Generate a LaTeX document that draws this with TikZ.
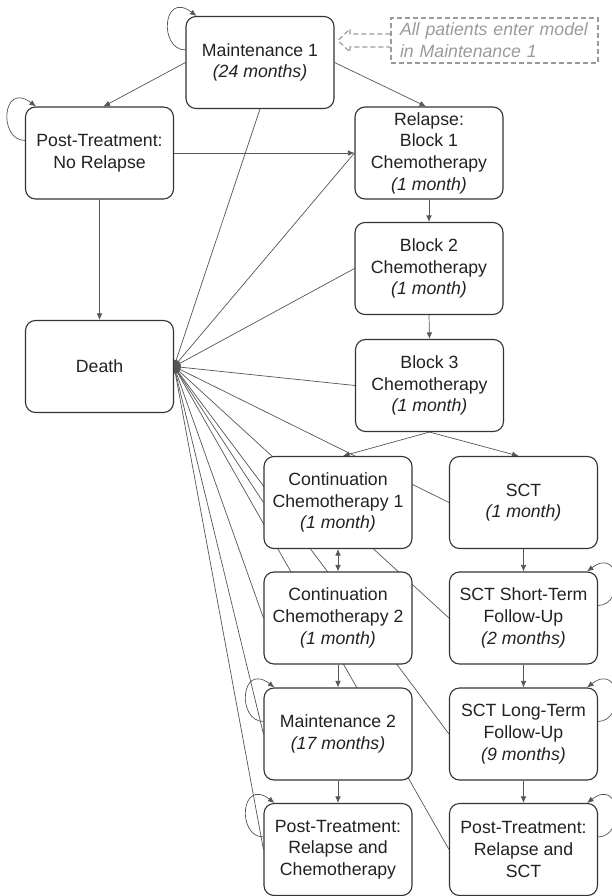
\documentclass[tikz,border=0pt]{standalone}
\usepackage{fontspec}
\setmainfont{Liberation Sans}
\usetikzlibrary{arrows.meta,calc}
\pgfdeclarelayer{bg}
\pgfsetlayers{bg,main}
\definecolor{boxline}{HTML}{333333}
\definecolor{connc}{HTML}{555555}
\definecolor{txt}{HTML}{222222}
\definecolor{notec}{HTML}{9A9A9A}
\begin{document}
\begin{tikzpicture}[x=1pt,y=-1pt,
  state/.style={draw=boxline, line width=1.1pt, rounded corners=10pt, fill=white,
     minimum width=148pt, minimum height=92pt, inner sep=0pt, align=center, text=txt,
     font=\fontsize{17.7pt}{21.7pt}\selectfont},
  conn/.style={draw=connc, line width=0.7pt},
  tip/.style={conn, -{Latex[length=6.5pt,width=5.5pt]}},
  dtip/.style={conn, {Latex[length=6.5pt,width=5.5pt]}-{Latex[length=6.5pt,width=5.5pt]}},
  noteline/.style={draw=notec, line width=1.2pt, dash pattern=on 5pt off 3pt},
  notebox/.style={noteline, text=notec, text width=189pt, inner xsep=9pt, inner ysep=0pt,
     minimum height=45pt, align=left, font=\fontsize{17.7pt}{21.7pt}\selectfont\itshape}
]
\useasboundingbox (0,0) rectangle (612,896);

% states
\node[state] (M1)   at (260,62.5)  {Maintenance 1\\\textit{(24 months)}};
\node[state] (PTNR) at (99.5,153)  {Post-Treatment:\\No Relapse};
\node[state] (REL)  at (429,153)   {Relapse:\\Block 1\\Chemotherapy\\\textit{(1 month)}};
\node[state] (B2)   at (429,268.5) {Block 2\\Chemotherapy\\\textit{(1 month)}};
\node[state] (B3)   at (429.5,385.5) {Block 3\\Chemotherapy\\\textit{(1 month)}};
\node[state] (D)    at (99.5,366.5) {Death};
\node[state] (CC1)  at (338,502.5) {Continuation\\Chemotherapy 1\\\textit{(1 month)}};
\node[state] (SCT)  at (523.5,502.5) {SCT\\\textit{(1 month)}};
\node[state] (CC2)  at (338,618)   {Continuation\\Chemotherapy 2\\\textit{(1 month)}};
\node[state] (SST)  at (523.5,618) {SCT Short-Term\\Follow-Up\\\textit{(2 months)}};
\node[state] (M2)   at (338,734)   {Maintenance 2\\\textit{(17 months)}};
\node[state] (SLT)  at (523.5,734) {SCT Long-Term\\Follow-Up\\\textit{(9 months)}};
\node[state] (PTRC) at (338,849.5) {Post-Treatment:\\Relapse and\\Chemotherapy};
\node[state] (PTRS) at (523.5,849.5) {Post-Treatment:\\Relapse and\\SCT};

% entry note
\node[notebox] (NOTE) at (494.5,40.5) {All patients enter model\\in Maintenance 1};

\begin{pgfonlayer}{bg}
% transitions to death
\foreach \s in {M1.south, REL.west, B2.west, B3.west, CC1.west, CC2.west,
                SCT.west, SST.west, SLT.west, M2.west, PTRC.west, PTRS.west}
  \draw[tip] (\s) -- (D.east);
\draw[tip] (PTNR.south) -- (D.north);

% main transitions
\draw[tip] (M1.west) -- ([xshift=4pt]PTNR.north);
\draw[tip] (M1.east) -- ([xshift=-3pt]REL.north);
\draw[tip] (PTNR.east) -- (REL.west);
\draw[tip] (REL.south) -- (B2.north);
\draw[tip] (B2.south) -- (B3.north);
\draw[tip] (B3.south) -- ([xshift=5pt]CC1.north);
\draw[tip] (B3.south) -- ([xshift=-5pt]SCT.north);
\draw[dtip] (CC1.south) -- (CC2.north);
\draw[tip] (CC2.south) -- (M2.north);
\draw[tip] (M2.south) -- (PTRC.north);
\draw[tip] (SCT.south) -- (SST.north);
\draw[tip] (SST.south) -- (SLT.north);
\draw[tip] (SLT.south) -- (PTRS.north);

% self loops (left)
\foreach \n in {M1, PTNR, M2, PTRC}
  \draw[tip] ($(\n.north west)+(0,34)$) .. controls +(-27,0) and +(-34,-26) .. ($(\n.north west)+(11,0)$);
% self loops (right)
\foreach \n in {SST, SLT, PTRS}
  \draw[tip] ($(\n.north east)+(0,34)$) .. controls +(27,0) and +(34,-26) .. ($(\n.north east)+(-11,0)$);

% dashed entry arrow
\draw[noteline] (NOTE.west |- 0,34) -- (350,34) -- (350,29) -- (338,40.5) -- (350,52) -- (350,47) -- (NOTE.west |- 0,47);
\end{pgfonlayer}
\end{tikzpicture}
\end{document}
